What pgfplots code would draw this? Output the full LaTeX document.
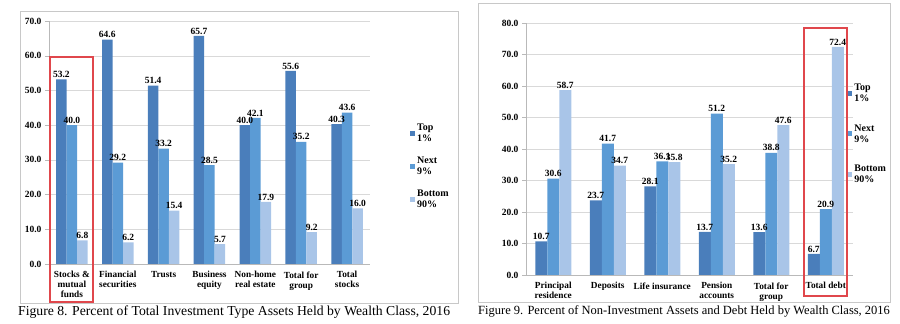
\documentclass[border=0pt]{standalone}
\usepackage{pgfplots}
\pgfplotsset{compat=1.18}
\usepackage{fontspec}
\setmainfont{Liberation Serif}
\definecolor{topc}{HTML}{4A7EBB}
\definecolor{nextc}{HTML}{5B9BD5}
\definecolor{botc}{HTML}{A9C5E8}
\definecolor{framec}{HTML}{C8C8C8}
\definecolor{gridc}{HTML}{D9D9D9}
\definecolor{redbox}{HTML}{E0474C}
\pgfplotsset{
  mystyle/.style={
    scale only axis,
    ybar=0pt,
    ymin=0,
    axis lines*=left,
    axis line style={draw=gray!55},
    tick align=outside,
    major tick length=4pt,
    ymajorgrids,
    grid style={draw=gridc},
    ytick style={draw=gray!55},
    xtick=data,
    xtick style={draw=none},
    extra x tick style={grid=none, tick style={draw=gray!55}},
    extra x tick labels={},
    enlarge x limits=false,
    yticklabel style={font=\bfseries\fontsize{9.5}{10}\selectfont, /pgf/number format/.cd, fixed, fixed zerofill, precision=1, assume math mode=true},
    xticklabel style={font=\bfseries\fontsize{9.3}{10}\selectfont, align=center},
    nodes near coords={\pgfmathprintnumber[fixed,fixed zerofill,precision=1,assume math mode=true]{\pgfplotspointmeta}},
    every node near coord/.append style={font=\bfseries\fontsize{9.5}{10}\selectfont, inner sep=1.5pt},
    legend style={draw=none, fill=none, font=\bfseries\fontsize{10}{11}\selectfont, cells={anchor=west, align=left}},
    legend image code/.code={\fill[##1,draw=none] (0pt,-2.5pt) rectangle (5pt,2.5pt);},
  }
}
\begin{document}
\begin{tikzpicture}[x=1pt,y=1pt]
\useasboundingbox (0,0) rectangle (900,324);
% frames
\draw[framec, line width=0.6pt] (20,21) rectangle (458,313);
\draw[framec, line width=0.6pt] (478,22) rectangle (890,321);
% ---------- Figure 8 ----------
\begin{axis}[mystyle,
  at={(49pt,60pt)}, anchor=south west,
  width=321pt, height=243pt,
  xmin=-0.5, xmax=6.5,
  ymax=70, ytick={0,10,...,70},
  bar width=10.5pt,
  xticklabels={Stocks \&\\mutual\\funds, Financial\\securities, Trusts, Business\\equity, Non-home\\real estate, Total for\\group, Total\\stocks},
  extra x ticks={-0.5,0.5,...,6.5},
  legend style={at={(1.115,0.595)}, anchor=north west, row sep=10pt},
]
\addplot[fill=topc, draw=none] coordinates {(0,53.2) (1,64.6) (2,51.4) (3,65.7) (4,40.0) (5,55.6) (6,40.3)};
\addplot[fill=nextc, draw=none] coordinates {(0,40.0) (1,29.2) (2,33.2) (3,28.5) (4,42.1) (5,35.2) (6,43.6)};
\addplot[fill=botc, draw=none] coordinates {(0,6.8) (1,6.2) (2,15.4) (3,5.7) (4,17.9) (5,9.2) (6,16.0)};
\legend{Top\\1\%, Next\\9\%, Bottom\\90\%}
\end{axis}
% ---------- Figure 9 ----------
\begin{axis}[mystyle,
  at={(526pt,49pt)}, anchor=south west,
  width=327pt, height=252pt,
  xmin=-0.5, xmax=5.5,
  ymax=80, ytick={0,10,...,80},
  bar width=12pt,
  xticklabels={Principal\\residence, Deposits, Life insurance, Pension\\accounts, Total for\\group, Total debt},
  extra x ticks={-0.5,0.5,...,5.5},
  legend style={at={(0.973,0.775)}, anchor=north west, row sep=17.5pt},
]
\addplot[fill=topc, draw=none] coordinates {(0,10.7) (1,23.7) (2,28.1) (3,13.7) (4,13.6) (5,6.7)};
\addplot[fill=nextc, draw=none] coordinates {(0,30.6) (1,41.7) (2,36.1) (3,51.2) (4,38.8) (5,20.9)};
\addplot[fill=botc, draw=none] coordinates {(0,58.7) (1,34.7) (2,35.8) (3,35.2) (4,47.6) (5,72.4)};
\legend{Top\\1\%, Next\\9\%, Bottom\\90\%}
\end{axis}
% highlight boxes
\draw[redbox, line width=1.6pt] (50,22) rectangle (93,267);
\draw[redbox, line width=1.6pt] (804,28) rectangle (847,296);
% captions
\node[anchor=west, inner sep=0pt, font=\fontsize{13.7}{15}\selectfont] at (18,12) {Figure 8. Percent of Total Investment Type Assets Held by Wealth Class, 2016};
\node[anchor=west, inner sep=0pt, font=\fontsize{12.5}{14}\selectfont] at (478,13) {Figure 9. Percent of Non-Investment Assets and Debt Held by Wealth Class, 2016};
\end{tikzpicture}
\end{document}
